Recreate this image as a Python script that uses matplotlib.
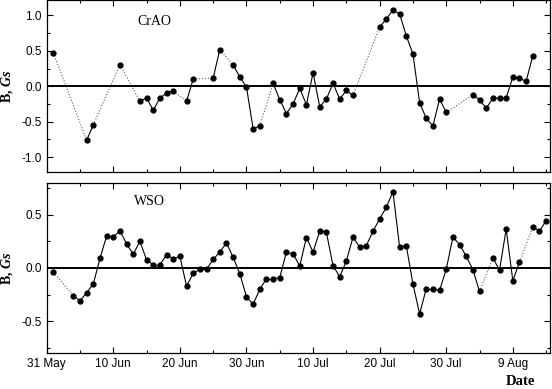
import numpy as np
import matplotlib.pyplot as plt
from matplotlib.ticker import MultipleLocator

# days counted from 31 May
crao_days = [1, 6, 7, 11, 14, 15, 16, 17, 18, 19, 21, 22, 25, 26, 28, 29, 30, 31, 32,
             34, 35, 36, 37, 38, 39, 40, 41, 42, 43, 44, 45, 46, 50, 51, 52, 53, 54, 55,
             56, 57, 58, 59, 60, 64, 65, 66, 67, 68, 69, 70, 71, 72, 73]
crao_vals = [0.47, -0.76, -0.545, 0.305, -0.21, -0.165, -0.34, -0.165, -0.10, -0.066, -0.21, 0.10,
             0.117, 0.517, 0.30, 0.13, -0.01, -0.60, -0.56,
             0.04, -0.19, -0.385, -0.25, -0.03, -0.26, 0.19, -0.29, -0.18, 0.04, -0.18, -0.06, -0.13,
             0.835, 0.95, 1.075, 1.02, 0.71, 0.455,
             -0.23, -0.455, -0.56, -0.18, -0.37, -0.12, -0.19, -0.31, -0.17, -0.165, -0.165,
             0.13, 0.11, 0.07, 0.43]

wso_days = [1, 4, 5, 6, 7, 8, 9, 10, 11, 12, 13, 14, 15, 16, 17, 18, 19, 20, 21, 22, 23, 24,
            25, 26, 27, 28, 29, 30, 31, 32, 33, 34, 35, 36, 37, 38, 39, 40, 41, 42, 43, 44, 45,
            46, 47, 48, 49, 50, 51, 52, 53, 54, 55, 56, 57, 58, 59, 60, 61, 62, 63, 64, 65,
            67, 68, 69, 70, 71, 73, 74, 75]
wso_vals = [-0.04, -0.26, -0.31, -0.23, -0.15, 0.09, 0.30, 0.29, 0.35, 0.225, 0.13, 0.25, 0.075,
            0.03, 0.03, 0.125, 0.085, 0.11, -0.17, -0.05, -0.012, -0.012,
            0.08, 0.15, 0.235, 0.10, -0.055, -0.27, -0.34, -0.20, -0.10, -0.10, -0.09, 0.15, 0.13,
            0.02, 0.285, 0.15, 0.345, 0.335, 0.02, -0.08, 0.065,
            0.29, 0.195, 0.21, 0.345, 0.46, 0.57, 0.715, 0.195, 0.21, -0.15, -0.43, -0.195, -0.195,
            -0.21, -0.012, 0.29, 0.22, 0.11, -0.015, -0.22,
            0.095, -0.02, 0.365, -0.12, 0.055, 0.385, 0.345, 0.445]

tick_days = [0, 10, 20, 30, 40, 50, 60, 70]
tick_labels = ["31 May", "10 Jun", "20 Jun", "30 Jun", "10 Jul", "20 Jul", "30 Jul", "9 Aug"]

plt.rcParams['mathtext.fontset'] = 'custom'
plt.rcParams['mathtext.it'] = 'Liberation Serif:italic:bold'
plt.rcParams['mathtext.rm'] = 'Liberation Serif:bold'


def draw_series(ax, days, vals):
    for i in range(len(days) - 1):
        if days[i + 1] - days[i] == 1:
            ax.plot(days[i:i + 2], vals[i:i + 2], color='black', lw=0.8, ls='-')
        else:
            ax.plot(days[i:i + 2], vals[i:i + 2], color='0.35', lw=0.8, ls=':')
    ax.plot(days, vals, ls='none', marker='o', ms=3.5, color='black')
    ax.axhline(0, color='black', lw=1.4)


def style_axis(ax, ylim, major, minor):
    ax.set_xlim(0, 75.6)
    ax.set_ylim(*ylim)
    ax.set_xticks(tick_days)
    ax.xaxis.set_minor_locator(MultipleLocator(5))
    ax.yaxis.set_major_locator(MultipleLocator(major))
    ax.yaxis.set_minor_locator(MultipleLocator(minor))
    ax.tick_params(which='both', direction='in', top=True, right=True,
                   labelsize=8.5, labelfontfamily='Liberation Sans', width=0.8)
    ax.tick_params(which='major', length=4)
    ax.tick_params(which='minor', length=2.5)
    for s in ax.spines.values():
        s.set_linewidth(0.9)
    ax.set_ylabel(r'B, $Gs$', fontsize=10, fontweight='bold', family='Liberation Serif', labelpad=6)


fig = plt.figure(figsize=(5.52, 3.89), dpi=100)
ax1 = fig.add_axes([0.0846, 0.5578, 0.912, 0.441])
ax2 = fig.add_axes([0.0846, 0.0918, 0.912, 0.4386])

draw_series(ax1, crao_days, crao_vals)
style_axis(ax1, (-1.21, 1.21), 0.5, 0.25)
ax1.set_xticklabels([])
ax1.set_yticks([-1.0, -0.5, 0.0, 0.5, 1.0])
ax1.set_yticklabels(["-1.0", "-0.5", "0.0", "0.5", "1.0"])
ax1.text(16.2, 0.91, "CrAO", ha='center', va='center', fontsize=10, family='Liberation Serif')

draw_series(ax2, wso_days, wso_vals)
style_axis(ax2, (-0.8, 0.8), 0.5, 0.25)
ax2.set_xticklabels(tick_labels)
ax2.set_yticks([-0.5, 0.0, 0.5])
ax2.set_yticklabels(["-0.5", "0.0", "0.5"])
ax2.text(15.5, 0.62, "WSO", ha='center', va='center', fontsize=10, family='Liberation Serif')

ax1.yaxis.set_label_coords(-0.062, 0.5)
ax2.yaxis.set_label_coords(-0.062, 0.5)

fig.text(0.942, 0.02, "Date", ha='center', va='center', fontsize=10.5,
         fontweight='bold', family='Liberation Serif')

fig.savefig("out.png", dpi=100)
